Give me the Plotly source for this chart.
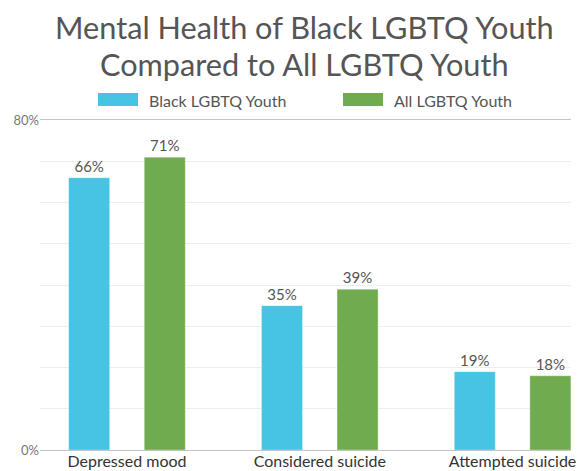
import plotly.graph_objects as go

categories = ["Depressed mood", "Considered suicide", "Attempted suicide"]
series_names = ["Black LGBTQ Youth", "All LGBTQ Youth"]
black_values = [66, 35, 19]
all_values = [71, 39, 18]
y_tick_vals = [0, 10, 20, 30, 40, 50, 60, 70, 80]
y_tick_text = ["0%", "", "", "", "", "", "", "", "80%"]
title_lines = ["Mental Health of Black LGBTQ Youth", "Compared to All LGBTQ Youth"]

BLUE = "#47C3E3"
GREEN = "#71AB4F"
FONT = "Lato, 'Open Sans', sans-serif"

W, H = 588, 471
L, R, T, B = 40, 17, 120, 21
PW, PH = W - L - R, H - T - B


def px_x(x):
    return (x - L) / PW


def px_y(y):
    return (H - B - y) / PH


fig = go.Figure()
for name, vals, col in [(series_names[0], black_values, BLUE), (series_names[1], all_values, GREEN)]:
    fig.add_trace(go.Bar(
        x=list(range(len(categories))), y=vals, name=name,
        marker=dict(color=col, line=dict(color="rgba(255,255,255,0.35)", width=1)),
        text=[f"{v}%" for v in vals], textposition="outside",
        textfont=dict(size=15, color="#555555", family=FONT),
        constraintext="none", cliponaxis=False, showlegend=False,
    ))

fig.update_layout(
    width=W, height=H,
    margin=dict(l=L, r=R, t=T, b=B, autoexpand=False),
    paper_bgcolor="white", plot_bgcolor="white",
    barmode="group", bargap=0.216, bargroupgap=0.457,
    font=dict(family=FONT, color="#555555"),
    xaxis=dict(
        tickmode="array", tickvals=list(range(len(categories))), ticktext=categories,
        range=[-0.451, 2.303], showgrid=False, zeroline=False,
        showline=True, mirror=True, linecolor="#c4c4c4", linewidth=1,
        tickfont=dict(size=16, color="#333333", family=FONT), ticks="",
        automargin=False, ticklabelstandoff=-3,
    ),
    yaxis=dict(
        range=[0, 80], tickmode="array", tickvals=y_tick_vals, ticktext=y_tick_text,
        showgrid=True, gridcolor="#eeeeee", gridwidth=1, zeroline=False,
        tickfont=dict(size=13, color="#777777", family=FONT), ticks="",
        showline=False, automargin=False,
    ),
)

# title as two centred lines
for i, line in enumerate(title_lines):
    fig.add_annotation(text=line, xref="paper", yref="paper",
                       x=px_x(304), y=px_y(27 + 37 * i),
                       xanchor="center", yanchor="middle", showarrow=False,
                       font=dict(size=30.7, color="#555555", family=FONT))

# custom legend (wide colour swatches like the reference)
legend_items = [(series_names[0], BLUE, 98), (series_names[1], GREEN, 343)]
for name, col, x0 in legend_items:
    fig.add_shape(type="rect", xref="paper", yref="paper",
                  x0=px_x(x0), x1=px_x(x0 + 40),
                  y0=px_y(106), y1=px_y(93),
                  fillcolor=col, line=dict(width=0))
    fig.add_annotation(text=name, xref="paper", yref="paper",
                       x=px_x(x0 + 49), y=px_y(100),
                       xanchor="left", yanchor="middle", showarrow=False,
                       font=dict(size=16, color="#555555", family=FONT))

fig.write_html("out.html")
